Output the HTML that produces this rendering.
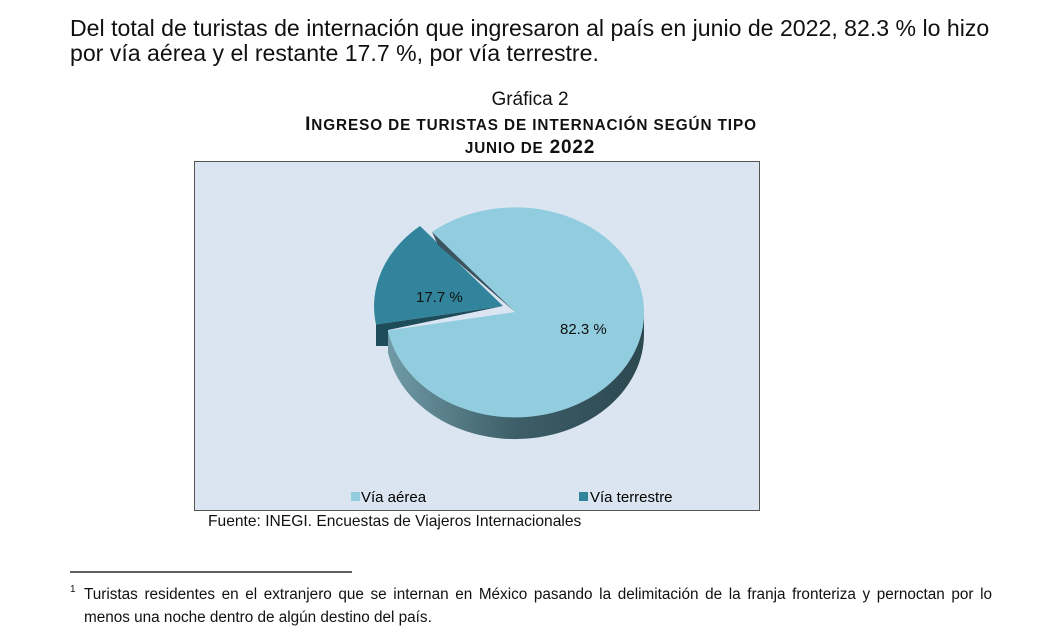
<!DOCTYPE html>
<html><head><meta charset="utf-8"><style>
body{margin:0;width:1057px;height:630px;background:#fff;position:relative;font-family:"Liberation Sans",sans-serif;color:#111;overflow:hidden}
.a{position:absolute;white-space:nowrap}
</style></head><body>
<div class="a" style="left:70px;top:16px;font-size:23.1px;line-height:25px;">Del total de turistas de internación que ingresaron al país en junio de 2022, 82.3 % lo hizo<br>por vía aérea y el restante 17.7 %, por vía terrestre.</div>
<div class="a" style="left:0;width:1060px;text-align:center;top:89px;font-size:19px;">Gráfica 2</div>
<div class="a" style="left:0;width:1062px;text-align:center;top:114px;font-size:19px;font-weight:bold;letter-spacing:0.9px;">I<span style="font-size:15.3px">NGRESO DE TURISTAS DE INTERNACIÓN SEGÚN TIPO</span></div>
<div class="a" style="left:0;width:1060px;text-align:center;top:137px;font-size:19px;font-weight:bold;letter-spacing:0.8px;"><span style="font-size:15.3px">JUNIO DE</span> 2022</div>
<svg class="a" style="left:0;top:0" width="1057" height="630">
<defs>
<linearGradient id="w" x1="0" x2="1"><stop offset="0" stop-color="#6f9aa6"/><stop offset="0.5" stop-color="#3d5e68"/><stop offset="1" stop-color="#2c4850"/></linearGradient>
</defs>
<rect x="194.5" y="161.5" width="565" height="349" fill="#dbe5f1" stroke="#555" stroke-width="1"/>
<path d="M388 330.5 L388 352.5 A129 105 0 0 0 644 334 L644 312 A129 105 0 0 1 388 330.5Z" fill="url(#w)"/>
<path d="M515 312 L388 330.5 A129 105 0 1 0 432 232 Z" fill="#92cddf"/>
<path d="M503 306 L376 324.5 L376 346 L388 346 L388 330 Z" fill="#1f4c5a"/>
<path d="M503 306 L420 226 A129 105 0 0 0 376 324.5 Z" fill="#31849b"/>
<path d="M432 232 L438 245 L515 312Z" fill="#3b5560"/>
<text x="416" y="302" font-size="15" fill="#111">17.7 %</text>
<text x="560" y="334" font-size="15" fill="#111">82.3 %</text>
<rect x="351" y="492" width="9" height="9" fill="#92cddf"/>
<text x="361" y="502" font-size="15">Vía aérea</text>
<rect x="579" y="492" width="9" height="9" fill="#31849b"/>
<text x="590" y="502" font-size="15">Vía terrestre</text>
<line x1="70" y1="572" x2="352" y2="572" stroke="#000" stroke-width="1.3"/>
</svg>
<div class="a" style="left:208px;top:513px;font-size:15.6px;">Fuente: INEGI. Encuestas de Viajeros Internacionales</div>
<div class="a" style="left:70px;top:584px;font-size:10px;">1</div>
<div class="a" style="left:84px;top:583px;width:908px;font-size:15.3px;line-height:23px;white-space:normal;text-align:justify;text-align-last:left;">Turistas residentes en el extranjero que se internan en México pasando la delimitación de la franja fronteriza y pernoctan por lo menos una noche dentro de algún destino del país.</div>
</body></html>
